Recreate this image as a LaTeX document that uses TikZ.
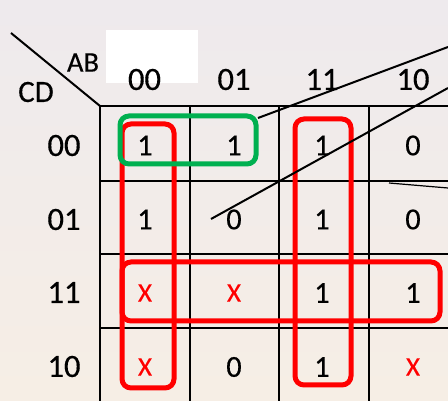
\documentclass[tikz,border=0pt]{standalone}
\usepackage{fontspec}
\setmainfont{Carlito}[FakeBold=0.4]
\definecolor{kgreen}{RGB}{0,176,80}
\definecolor{kred}{RGB}{255,0,0}
\definecolor{bgtop}{RGB}{238,234,237}
\definecolor{bgbot}{RGB}{246,238,229}
\begin{document}
\begin{tikzpicture}[x=1pt,y=-1pt,
  grid/.style={line width=2pt,black},
  hdr/.style={font=\fontsize{32.5}{33}\selectfont,inner sep=0pt},
  val/.style={font=\fontsize{30.5}{31}\selectfont,inner sep=0pt},
  dc/.style={font=\fontsize{27}{27}\selectfont,inner sep=0pt,text=kred},
  loopbox/.style={line width=5pt,rounded corners=9pt},
  stroke/.style={line width=2pt,black}]
% background
\useasboundingbox (0,0) rectangle (448,401);
\shade[top color=bgtop,bottom color=bgbot] (0,0) rectangle (448,401);
% white patch behind the first column header
\fill[white] (106,30) rectangle (198,83);
% grid
\foreach \x in {100,190,279,369} \draw[grid] (\x,106) -- (\x,401);
\foreach \y in {106,181,254,328} \draw[grid] (100,\y) -- (448,\y);
% corner diagonal and variable names
\coordinate (dTop) at (11,33);
\coordinate (dBot) at (100,106);
\draw[stroke] (dTop) -- (dBot);
\node[font=\fontsize{28.5}{29}\selectfont,inner sep=0pt] (ab) at (83,62.5) {AB};
\node[font=\fontsize{31}{31}\selectfont,inner sep=0pt] (cd) at (36,92) {CD};
% column headers
\node[hdr] (c00) at (144.5,79.5) {00};
\node[hdr] (c01) at (234,79.5) {01};
\node[hdr] (c11) at (322,79.5) {11};
\node[hdr] (c10) at (413,79.5) {10};
% row headers
\node[hdr] (r00) at (64,145.5) {00};
\node[hdr] (r01) at (64,219.5) {01};
\node[hdr] (r11) at (64,292.5) {11};
\node[hdr] (r10) at (64,366.5) {10};
% cell values
\node[val] (v0000) at (145,145.5) {1};
\node[val] (v0100) at (234,145.5) {1};
\node[val] (v1100) at (322,145.5) {1};
\node[val] (v1000) at (413,145.5) {0};
\node[val] (v0001) at (145,219.5) {1};
\node[val] (v0101) at (234,219.5) {0};
\node[val] (v1101) at (322,219.5) {1};
\node[val] (v1001) at (413,219.5) {0};
\node[dc]  (v0011) at (145,293) {X};
\node[dc]  (v0111) at (234,293) {X};
\node[val] (v1111) at (322,293) {1};
\node[val] (v1011) at (413,293) {1};
\node[dc]  (v0010) at (145,367) {X};
\node[val] (v0110) at (234,367) {0};
\node[val] (v1110) at (322,367) {1};
\node[dc]  (v1010) at (413,367) {X};
% groupings
\draw[loopbox,kred] (122,124) rectangle (174,388);
\draw[loopbox,kred] (295,119) rectangle (351,385);
\draw[loopbox,kred] (122,262) rectangle (440,321);
\draw[loopbox,kgreen] (120,116) rectangle (256,164);
% stray strokes across the map
\coordinate (s1a) at (258,118);
\coordinate (s1b) at (448,47);
\coordinate (s2a) at (211,219);
\coordinate (s2b) at (448,88);
\coordinate (s3a) at (389,183);
\coordinate (s3b) at (448,188);
\draw[stroke] (s1a) -- (s1b);
\draw[stroke] (s2a) -- (s2b);
\draw[line width=1.2pt,black] (s3a) -- (s3b);
\end{tikzpicture}
\end{document}
